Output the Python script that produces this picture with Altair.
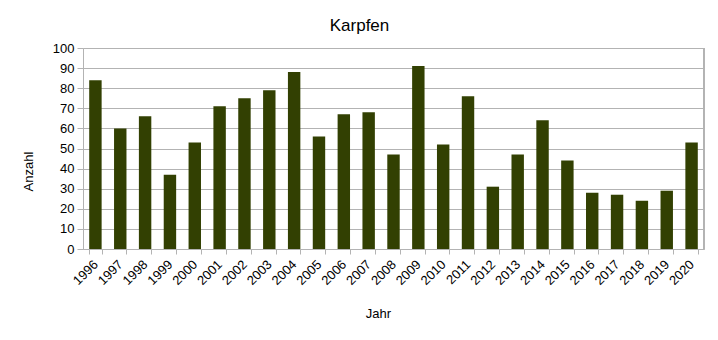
import altair as alt
import pandas as pd

years = [str(y) for y in range(1996, 2021)]
counts = [84, 60, 66, 37, 53, 71, 75, 79, 88, 56, 67, 68, 47, 91, 52, 76, 31, 47, 64, 44, 28, 27, 24, 29, 53]

df = pd.DataFrame({"Jahr": years, "Anzahl": counts})

FONT = "Liberation Sans"
GRID = "#b3b3b3"

bars = alt.Chart(df).mark_bar(color="#324002").encode(
    x=alt.X("Jahr:N", sort=years,
            scale=alt.Scale(paddingInner=0.5, paddingOuter=0.25),
            axis=alt.Axis(title="Jahr", labelAngle=-45, labelAlign="right", labelBaseline="middle",
                          labelPadding=8, tickBand="extent", tickSize=5, tickColor=GRID,
                          domainColor=GRID, grid=False, labelFont=FONT, labelFontSize=13,
                          labelColor="#000000", titleFont=FONT, titleFontSize=13,
                          titleFontWeight="normal", titleColor="#000000",
                          titleX=295, titleY=64, titleBaseline="middle")),
    y=alt.Y("Anzahl:Q", scale=alt.Scale(domain=[0, 100], nice=False),
            axis=alt.Axis(title="Anzahl", values=list(range(0, 101, 10)), tickSize=6,
                          tickColor=GRID, domainColor=GRID, gridColor=GRID, labelPadding=3,
                          labelFont=FONT, labelFontSize=13, labelColor="#000000",
                          titleFont=FONT, titleFontSize=13, titleFontWeight="normal",
                          titleColor="#000000", titleX=-55, titleY=123,
                          titleBaseline="middle")),
)

right = alt.Chart(df).mark_rule(color=GRID).encode(
    x=alt.value(621), y=alt.value(0), y2=alt.value(201)
)

chart = (bars + right).properties(
    width=621, height=201,
    title=alt.TitleParams("Karpfen", font=FONT, fontSize=17, fontWeight="normal",
                          color="#000000", anchor="middle", dx=-34, offset=7),
    autosize=alt.AutoSizeParams(type="none"),
    padding={"left": 83, "top": 48, "right": 14, "bottom": 91},
).configure_view(stroke=None).configure(background="#ffffff")

chart.save("out.html", embed_options={"renderer": "svg", "actions": False})
